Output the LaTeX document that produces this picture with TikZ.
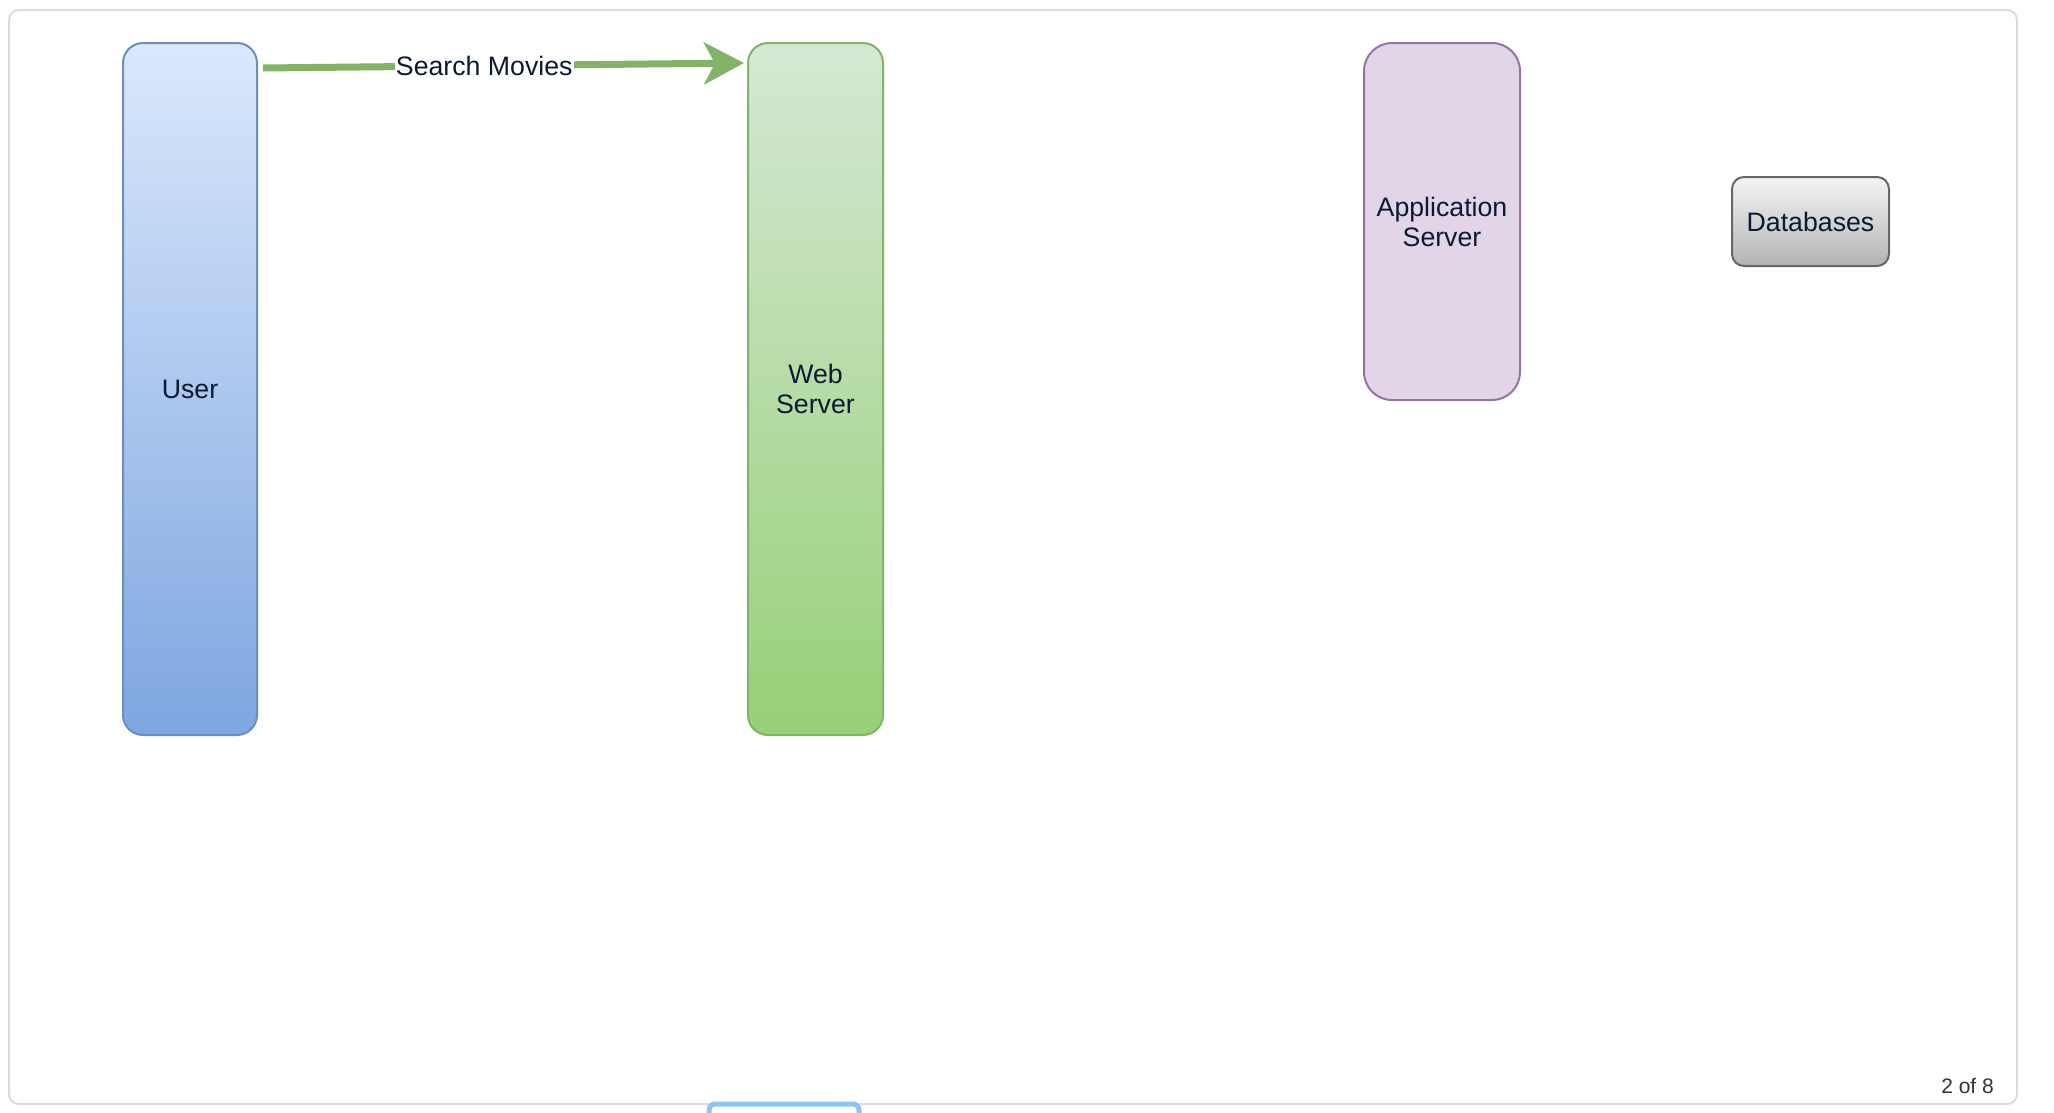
\documentclass[tikz,border=0pt]{standalone}
\usepackage{fontspec}
\setmainfont{Liberation Sans}
\usepackage{tikz}
\usetikzlibrary{arrows.meta,positioning}
\definecolor{userfill1}{HTML}{DAE8FC}
\definecolor{userfill2}{HTML}{7EA6E0}
\definecolor{userline}{HTML}{6C8EBF}
\definecolor{webfill1}{HTML}{D5E8D4}
\definecolor{webfill2}{HTML}{97D077}
\definecolor{webline}{HTML}{82B366}
\definecolor{appfill}{HTML}{E1D5E7}
\definecolor{appline}{HTML}{9673A6}
\definecolor{dbfill1}{HTML}{F5F5F5}
\definecolor{dbfill2}{HTML}{B3B3B3}
\definecolor{dbline}{HTML}{666666}
\definecolor{labeltext}{HTML}{0B1A33}
\definecolor{framegray}{HTML}{DCDCDC}
\definecolor{tabblue}{HTML}{8EC3F7}

\begin{document}
\begin{tikzpicture}[x=1pt,y=-1pt,
    box/.style={rectangle, line width=2pt, align=center, text=labeltext,
        font=\fontsize{26.7}{30}\selectfont, inner sep=0pt},
    flow/.style={-{Stealth[length=40pt,width=42pt,inset=11pt]}, line width=7pt, webline}
    ]
        \useasboundingbox (0,0) rectangle (2054,1112);

        % Outer frame and page tab
        \draw[framegray, line width=2pt, rounded corners=10pt] (9,10) rectangle (2017,1104);
        \draw[tabblue, line width=5pt, fill=white, rounded corners=6pt] (709,1130) -- (709,1104) -- (859,1104) -- (859,1130);
        \node[anchor=east, text=black!80, font=\fontsize{21}{24}\selectfont, inner sep=0pt] (pagenum) at (1994,1086) {2 of 8};

        % Lanes
        \node[box, draw=userline, top color=userfill1, bottom color=userfill2, rounded corners=20pt,
            minimum width=134pt, minimum height=692pt] (user) at (190,389) {User};
        \node[box, draw=webline, top color=webfill1, bottom color=webfill2, rounded corners=20pt,
            minimum width=135pt, minimum height=692pt] (web) at (815.5,389) {Web\\Server};
        \node[box, draw=appline, fill=appfill, rounded corners=28pt,
            minimum width=156pt, minimum height=357pt] (app) at (1442,221.5) {Application\\Server};
        \node[box, draw=dbline, top color=dbfill1, bottom color=dbfill2, rounded corners=12pt,
            minimum width=157pt, minimum height=89pt] (db) at (1810.5,221.5) {Databases};

        % Request
        \draw[flow] ([xshift=5pt,yshift=-26pt]user.north east) -- ([xshift=-3pt,yshift=-21pt]web.north west)
            node[pos=0.46, fill=white, text=labeltext, inner sep=1pt, font=\fontsize{26.7}{30}\selectfont] (req) {Search Movies};
\end{tikzpicture}
\end{document}
